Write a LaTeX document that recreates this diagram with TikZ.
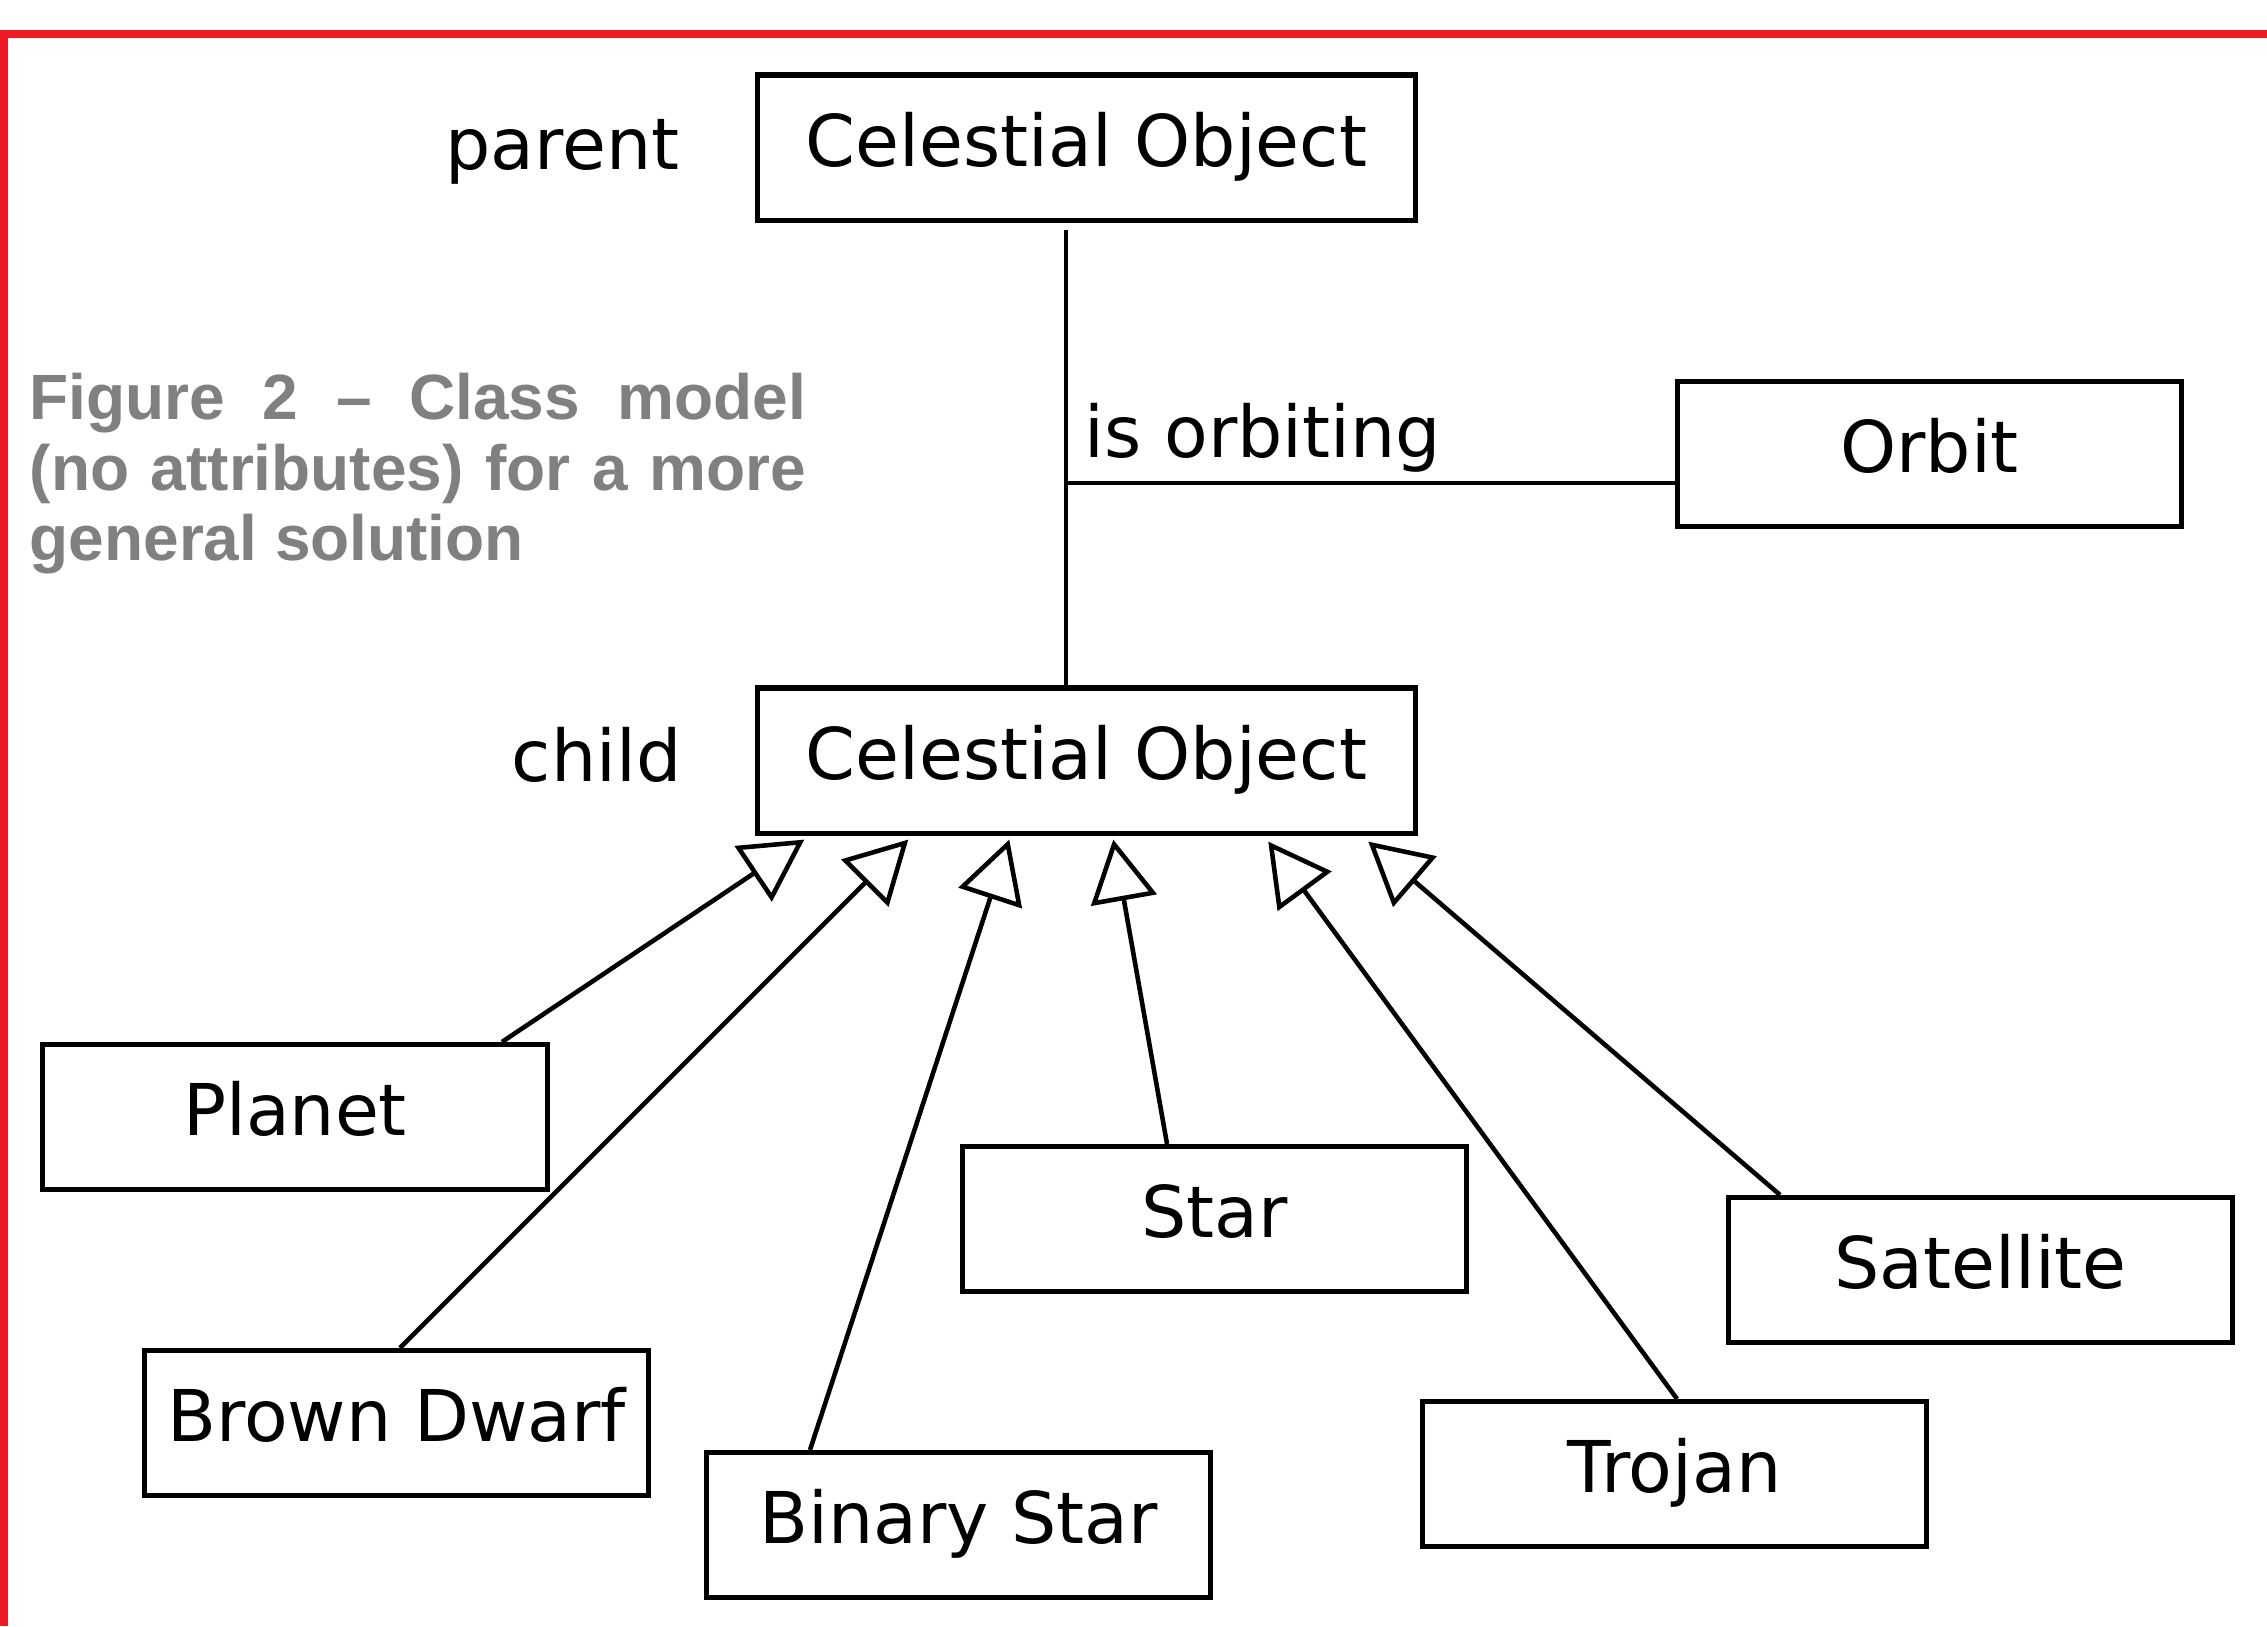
\documentclass[tikz,border=0pt]{standalone}
\usepackage{fontspec}
\setmainfont{DejaVu Sans}
\newfontfamily\capfont{Liberation Sans}
\usetikzlibrary{arrows.meta}
\definecolor{borderred}{RGB}{237,28,36}
\definecolor{capgray}{RGB}{128,128,128}
\tikzset{
  cls/.style={draw, line width=1.45pt, minimum width=5.04cm, minimum height=1.45cm, inner sep=0pt, text height=15.4pt, text depth=4.8pt},
  bigcls/.style={cls, minimum width=6.57cm},
  lbl/.style={inner sep=0pt},
  conn/.style={line width=1.3pt},
  gen/.style={conn, -{Triangle[open, length=17.5pt, width=18.8pt]}},
  captxt/.style={inner sep=0pt, anchor=base west, text=capgray, font=\capfont\bfseries\fontsize{18.2}{20}\selectfont},
}
\begin{document}
\begin{tikzpicture}[x=0.01cm, y=-0.01cm, font=\fontsize{20.3}{24}\selectfont]
\useasboundingbox (0,0) rectangle (2267,1626);
\draw[borderred, line width=2.1pt] (4,1626) -- (4,34) -- (2267,34);

% classes
\node[bigcls] (parent) at (1086.5,147.5) {Celestial Object};
\node[bigcls] (child) at (1086.5,760.5) {Celestial Object};
\node[cls] (orbit) at (1929.5,454) {Orbit};
\node[cls] (planet) at (295,1117) {Planet};
\node[cls] (star) at (1214.5,1219) {Star};
\node[cls] (satellite) at (1980.5,1270) {Satellite};
\node[cls] (brown) at (396.5,1423) {Brown Dwarf};
\node[cls] (trojan) at (1674.5,1474) {Trojan};
\node[cls] (binary) at (958.5,1525) {Binary Star};

% labels
\node[lbl, anchor=base east] (plbl) at (680,169) {parent};
\node[lbl, anchor=base east] (clbl) at (682,781) {child};
\node[lbl, anchor=base west] (olbl) at (1084,457) {is orbiting};

% caption
\node[captxt] (cap1) at (29,419) {\hbox to 220.8pt{Figure\hfill 2\hfill –\hfill Class\hfill model}};
\node[captxt] (cap2) at (29,490) {\hbox to 220.8pt{(no\hfill attributes)\hfill for\hfill a\hfill more}};
\node[captxt] (cap3) at (29,560) {general solution};

% association
\coordinate (j) at (1066,483);
\draw[conn] ([yshift=-0.07cm]parent.south -| j) -- (child.north -| j);
\draw[conn] (j) -- (j -| orbit.west);

% generalisations
\coordinate (t1) at ([shift={(49,4)}]child.south west);
\coordinate (t2) at ([shift={(153,4)}]child.south west);
\coordinate (t3) at ([shift={(254,4)}]child.south west);
\coordinate (t4) at ([shift={(358,4)}]child.south west);
\coordinate (t5) at ([shift={(513,6)}]child.south west);
\coordinate (t6) at ([shift={(613,6)}]child.south west);
\draw[gen] ([shift={(207,0)}]planet.north) -- (t1);
\draw[gen] ([shift={(3.5,0)}]brown.north) -- (t2);
\draw[gen] ([shift={(-148.5,0)}]binary.north) -- (t3);
\draw[gen] ([shift={(-47.5,0)}]star.north) -- (t4);
\draw[gen] ([shift={(2.5,0)}]trojan.north) -- (t5);
\draw[gen] ([shift={(-200.5,0)}]satellite.north) -- (t6);
\end{tikzpicture}
\end{document}
